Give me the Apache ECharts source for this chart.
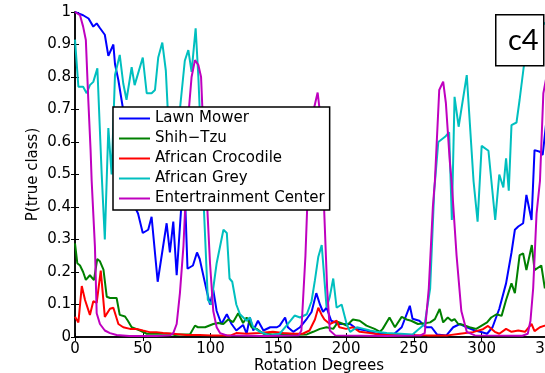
<!DOCTYPE html>
<html>
<head>
<meta charset="utf-8">
<script src="https://cdn.jsdelivr.net/npm/echarts@6/dist/echarts.min.js"></script>
<style>
  html, body { margin: 0; padding: 0; overflow: hidden; background: #fff; }
  #chart { width: 545px; height: 373px; }
</style>
</head>
<body>
<div id="chart"></div>
<script>
// [rotation degrees, P(true class)]
var lawnMower = [[0,1.0],[3,0.995],[6,0.99],[10,0.98],[13.5,0.955],[16,0.965],[18.5,0.95],[22,0.93],[24.6,0.865],[28.3,0.9],[29.5,0.84],[32,0.79],[35.5,0.7],[39,0.5],[43,0.41],[46.5,0.38],[50,0.32],[54,0.33],[56.5,0.37],[61,0.17],[67.6,0.35],[70,0.26],[72.5,0.355],[75,0.19],[78.7,0.42],[81,0.45],[83,0.21],[87,0.22],[90,0.26],[92,0.24],[97,0.145],[99.6,0.10],[102,0.145],[104.5,0.08],[108,0.04],[112,0.07],[115.5,0.04],[119,0.02],[124,0.037],[126.6,0.01],[129,0.06],[131.5,0.02],[135,0.05],[139,0.02],[144,0.03],[149,0.03],[151,0.035],[155,0.06],[157,0.03],[161,0.016],[166,0.03],[171,0.056],[174.5,0.077],[178,0.135],[180.7,0.1],[183,0.077],[185.6,0.09],[189,0.05],[195,0.04],[203,0.04],[207.7,0.025],[215,0.02],[222,0.01],[225,0.01],[235,0.008],[241,0.03],[247,0.096],[249,0.056],[254,0.05],[259,0.03],[263,0.03],[267,0.008],[274,0.005],[279,0.03],[284,0.04],[289,0.03],[295,0.02],[299,0.016],[304,0.01],[308,0.03],[313,0.087],[318,0.165],[322,0.26],[324.5,0.33],[327,0.34],[330.6,0.35],[333,0.437],[336.8,0.36],[339,0.575],[343,0.57],[345,0.56],[350,0.75],[355,0.8]];
var shihTzu = [[0,0.288],[1.7,0.227],[3.7,0.22],[6,0.2],[8,0.176],[11,0.19],[14,0.175],[16.4,0.24],[18.4,0.233],[21,0.207],[23.4,0.124],[25.8,0.12],[30.7,0.12],[33,0.068],[36.9,0.063],[39,0.05],[41.8,0.03],[48,0.02],[53,0.01],[62.7,0.01],[70,0.01],[73.7,0.006],[77.4,0.008],[84.8,0.008],[88.5,0.035],[90.7,0.03],[96,0.03],[102,0.04],[105.7,0.043],[109.4,0.04],[113,0.054],[116.7,0.046],[120.4,0.073],[124,0.043],[126.6,0.06],[130.3,0.03],[134,0.025],[139,0.01],[146,0.008],[153.6,0.01],[163.5,0.007],[171,0.008],[175.7,0.016],[180.7,0.025],[185.6,0.03],[190.5,0.025],[194,0.046],[198,0.04],[200.4,0.035],[205,0.054],[210,0.05],[215,0.035],[221,0.025],[225,0.016],[227,0.025],[232,0.06],[236,0.03],[241,0.062],[244.6,0.054],[248,0.05],[253,0.04],[258,0.042],[262,0.045],[265.5,0.055],[269,0.086],[271.6,0.045],[275,0.06],[277.8,0.05],[280,0.055],[282.7,0.04],[286,0.038],[291,0.03],[296,0.025],[300,0.035],[304,0.045],[307,0.06],[311,0.07],[314.7,0.065],[318,0.114],[322,0.165],[324.5,0.135],[328,0.252],[330.6,0.257],[333,0.206],[337,0.283],[339,0.206],[344,0.22],[346.6,0.15],[352,0.2],[358,0.18]];
var africanCrocodile = [[0,0.062],[2.5,0.045],[5,0.157],[7.4,0.114],[11,0.068],[13.5,0.11],[16,0.105],[19,0.204],[22,0.062],[25.8,0.087],[28.3,0.09],[32,0.04],[35.6,0.03],[40.6,0.025],[45.5,0.025],[50,0.02],[55,0.015],[60,0.015],[65,0.012],[72.5,0.01],[82,0.006],[92,0.006],[100,0.005],[115,0.005],[119,0.012],[126.6,0.01],[136,0.012],[146,0.016],[153.6,0.012],[161,0.01],[168,0.01],[173,0.02],[177,0.054],[179.5,0.09],[182,0.068],[184,0.054],[188,0.04],[193,0.05],[195,0.03],[200,0.025],[205,0.03],[210,0.016],[217.6,0.012],[225,0.008],[240,0.006],[260,0.005],[275,0.005],[284,0.01],[293.5,0.015],[301,0.024],[304.7,0.034],[309.7,0.016],[313,0.01],[318,0.025],[322,0.016],[327,0.02],[332,0.016],[336.8,0.04],[339,0.018],[343,0.03],[346.6,0.035],[352,0.03],[358,0.035]];
var africanGrey = [[0,0.915],[2.5,0.77],[6,0.77],[8.6,0.75],[11,0.775],[13.5,0.785],[16.5,0.827],[19.7,0.5],[22,0.3],[24.6,0.643],[27,0.5],[29.5,0.806],[33,0.868],[35.6,0.78],[38,0.73],[41.8,0.83],[44,0.775],[50,0.86],[52.9,0.75],[56.5,0.75],[59,0.76],[61.4,0.86],[64.4,0.906],[67,0.82],[69,0.65],[73,0.6],[77.4,0.7],[81,0.85],[83.6,0.883],[86,0.816],[89,0.95],[91,0.8],[94,0.5],[98,0.114],[100.8,0.1],[102,0.15],[104.5,0.227],[109.5,0.33],[112,0.32],[114,0.18],[116,0.17],[119,0.1],[121.7,0.07],[126.6,0.05],[129,0.06],[131.5,0.03],[136.4,0.016],[143.8,0.005],[151,0.01],[156,0.035],[162,0.066],[166,0.06],[171,0.07],[174.5,0.11],[177,0.175],[179.5,0.247],[182,0.283],[185.6,0.09],[188,0.125],[190.5,0.18],[193,0.09],[196.7,0.1],[200.4,0.04],[203,0.016],[208,0.03],[213,0.025],[217.6,0.02],[222.5,0.016],[230,0.012],[240,0.01],[249,0.008],[258,0.04],[262,0.15],[265,0.45],[268,0.6],[273,0.616],[276,0.63],[278,0.36],[280,0.739],[283,0.647],[289,0.806],[294,0.48],[297,0.355],[300,0.588],[305,0.573],[310,0.36],[313,0.5],[316,0.46],[318,0.55],[320,0.45],[322,0.652],[325.7,0.66],[328,0.73],[331,0.83],[335,0.92],[340,0.96],[345,0.97],[350,0.95],[355,0.93]];
var entertainmentCenter = [[0,1.0],[3.7,0.99],[6,0.955],[8,0.914],[9.8,0.73],[11.5,0.575],[12.3,0.48],[14.7,0.278],[16,0.073],[18.4,0.04],[22,0.02],[25.8,0.012],[30.7,0.006],[40,0.003],[60,0.003],[70,0.005],[72.5,0.012],[75,0.04],[77.4,0.135],[80,0.28],[82.4,0.5],[84,0.7],[86,0.8],[88.5,0.852],[91,0.837],[93,0.8],[95,0.6],[96.6,0.48],[99.6,0.227],[102,0.08],[104.5,0.03],[107,0.012],[112,0.005],[140,0.003],[165,0.005],[167,0.02],[170,0.25],[172,0.48],[175,0.68],[179,0.752],[181,0.68],[183,0.48],[186,0.15],[188,0.02],[192,0.005],[230,0.003],[255,0.005],[258,0.012],[261,0.15],[264,0.4],[265.5,0.48],[268.7,0.76],[271.6,0.786],[273.6,0.72],[276.5,0.54],[278,0.47],[281.5,0.25],[285,0.08],[289,0.016],[295,0.005],[330,0.004],[334,0.01],[336,0.05],[338,0.15],[340.5,0.38],[343,0.48],[345.5,0.75],[350,0.85],[355,0.9]];

var seriesNames = ['Lawn Mower', 'Shih\u2212Tzu', 'African Crocodile', 'African Grey', 'Entertrainment Center'];
var seriesData = [lawnMower, shihTzu, africanCrocodile, africanGrey, entertainmentCenter];
var seriesColors = ['#0000ff', '#008000', '#ff0000', '#00bfbf', '#bf00bf'];

var font = 'DejaVu Sans';
var chart = echarts.init(document.getElementById('chart'), null, { renderer: 'canvas' });

var axisLine = { show: true, lineStyle: { color: '#000', width: 1.5 } };
var axisTick = { show: true, inside: true, length: 4, lineStyle: { color: '#000', width: 1 } };

var option = {
  animation: false,
  // the figure is cut at the right: the plot box runs past the window edge to 360 degrees
  grid: { left: 75, top: 12, right: -18, bottom: 36, outerBoundsMode: 'none', containLabel: false },
  legend: {
    data: seriesNames,
    orient: 'vertical',
    left: 113,
    top: 107,
    padding: [3, 5, 3, 6],
    itemGap: 3,
    icon: 'rect',
    itemWidth: 31,
    itemHeight: 2,
    backgroundColor: '#fff',
    borderColor: '#000',
    borderWidth: 1.5,
    textStyle: { fontFamily: font, fontSize: 15, color: '#000', lineHeight: 17 }
  },
  xAxis: [
    {
      type: 'value', min: 0, max: 360, interval: 50,
      name: 'Rotation Degrees', nameLocation: 'middle', nameGap: 22, nameMoveOverlap: false,
      nameTextStyle: { fontFamily: font, fontSize: 15, color: '#000' },
      axisLine: axisLine, axisTick: axisTick,
      axisLabel: { fontFamily: font, fontSize: 15, color: '#000', margin: 5 },
      splitLine: { show: false }
    },
    {
      type: 'value', min: 0, max: 360, interval: 50, position: 'top',
      axisLine: axisLine, axisTick: axisTick,
      axisLabel: { show: false }, splitLine: { show: false }
    }
  ],
  yAxis: [
    {
      type: 'value', min: 0, max: 1, interval: 0.1,
      name: 'P(true class)', nameLocation: 'middle', nameGap: 34, nameMoveOverlap: false,
      nameTextStyle: { fontFamily: font, fontSize: 15, color: '#000' },
      axisLine: axisLine, axisTick: axisTick,
      axisLabel: { fontFamily: font, fontSize: 15, color: '#000', margin: 4 },
      splitLine: { show: false }
    },
    {
      type: 'value', min: 0, max: 1, interval: 0.1, position: 'right',
      axisLine: axisLine, axisTick: axisTick,
      axisLabel: { show: false }, splitLine: { show: false }
    }
  ],
  series: seriesNames.map(function (name, i) {
    return {
      name: name,
      type: 'line',
      data: seriesData[i],
      symbol: 'none',
      color: seriesColors[i],
      lineStyle: { width: 2 },
      emphasis: { disabled: true }
    };
  }),
  graphic: [
    {
      type: 'rect',
      left: 495, top: 14,
      shape: { width: 48, height: 51 },
      style: { fill: '#fff', stroke: '#000', lineWidth: 1.5 },
      z: 100
    },
    {
      type: 'text',
      left: 508, top: 26,
      style: { text: 'c4', fontFamily: 'Lato', fontSize: 29, fill: '#000' },
      z: 101
    }
  ]
};

chart.setOption(option);
</script>
</body>
</html>
